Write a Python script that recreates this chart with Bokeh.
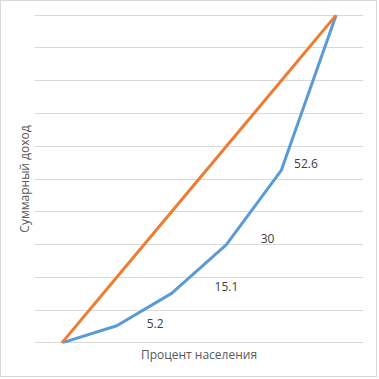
from bokeh.plotting import figure
from bokeh.embed import file_html
from bokeh.resources import INLINE
from bokeh.models import ColumnDataSource, FixedTicker, Range1d
from bokeh.core.properties import value

# Data
population_pct = [0, 20, 40, 60, 80, 100]
income_cum = [0, 5.2, 15.1, 30, 52.6, 100]
equality = [0, 20, 40, 60, 80, 100]
label_idx = [1, 2, 3, 4]
label_text = ["5.2", "15.1", "30", "52.6"]
x_title = "Процент населения"
y_title = "Суммарный доход"

# label placement offsets (style, data units)
label_dx = [14.0, 20.0, 15.0, 9.0]
label_dy = [0.8, 2.2, 1.9, 2.0]

FONT = "Open Sans"

p = figure(width=377, height=377, output_backend="svg", toolbar_location=None,
           x_range=Range1d(-10, 110), y_range=Range1d(-0.2, 100.2),
           min_border_left=33, min_border_right=15, min_border_top=13, min_border_bottom=35,
           styles={"border": "1px solid #d9d9d9"})
p.outline_line_color = None
p.background_fill_color = "white"
p.border_fill_color = "white"

p.xgrid.visible = False
p.ygrid.ticker = FixedTicker(ticks=list(range(0, 101, 10)))
p.ygrid.grid_line_color = "#d9d9d9"
p.ygrid.grid_line_width = 1

for ax in (p.xaxis[0], p.yaxis[0]):
    ax.ticker = FixedTicker(ticks=[])
    ax.axis_line_color = None
    ax.major_tick_out = 0
    ax.major_tick_in = 0
    ax.minor_tick_out = 0
    ax.minor_tick_in = 0
    ax.major_label_standoff = 0
    ax.axis_label_text_font = FONT
    ax.axis_label_text_font_size = "12px"
    ax.axis_label_text_font_style = "normal"
    ax.axis_label_text_color = "#595959"
    ax.axis_label_standoff = 2

p.xaxis.axis_label = x_title
p.yaxis.axis_label = y_title

p.line(population_pct, income_cum, line_color="#5B9BD5", line_width=3, line_join="round")
p.line(population_pct, equality, line_color="#ED7D31", line_width=3, line_join="round")

lx = [population_pct[i] + dx for i, dx in zip(label_idx, label_dx)]
ly = [income_cum[i] + dy for i, dy in zip(label_idx, label_dy)]
src = ColumnDataSource(dict(x=lx, y=ly, t=label_text))
p.text(x="x", y="y", text="t", source=src, text_font=value(FONT), text_font_size="12px",
       text_color="#404040", text_align="center", text_baseline="middle")

html = file_html(p, INLINE)
open("out.html", "w").write(html)
